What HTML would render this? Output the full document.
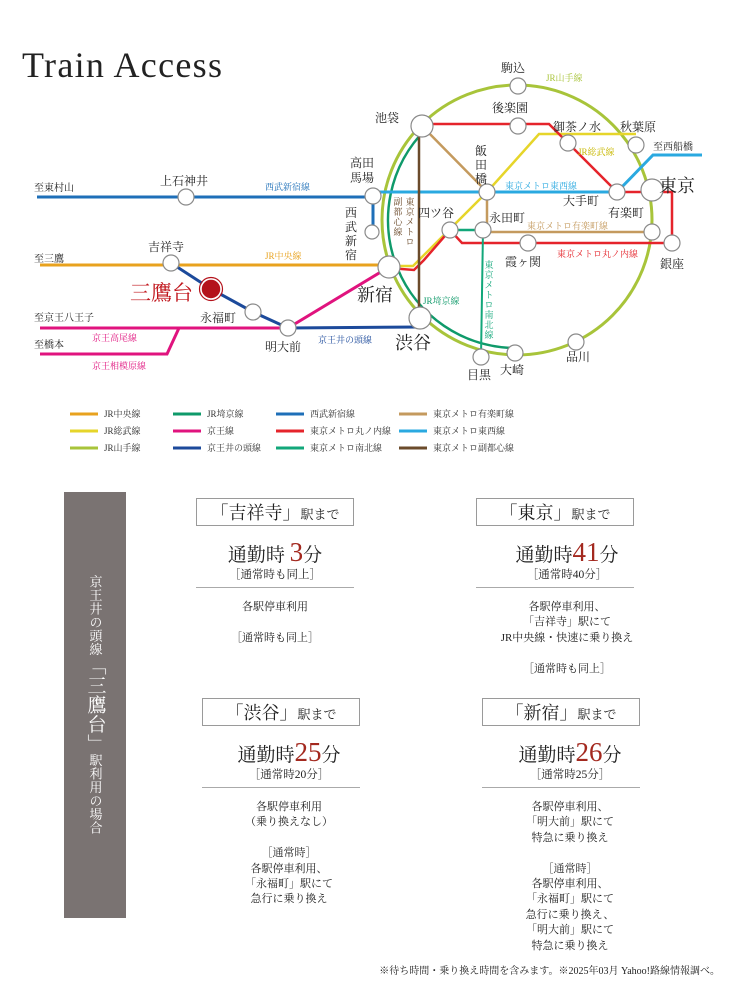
<!DOCTYPE html>
<html><head><meta charset="utf-8"><style>
body{margin:0;background:#fff;}
#w{position:relative;width:730px;height:1000px;overflow:hidden;font-family:"Liberation Serif","Noto Serif CJK SC",serif;color:#222;}
svg{position:absolute;left:0;top:0;}
.st{fill:#fff;stroke:#8a8a8a;stroke-width:1.2;}
.lb{font-size:12px;fill:#222;}
.ln{font-size:9px;}
.big{font-size:18px;fill:#222;}
.lg{font-size:9px;fill:#333;}
.gray{position:absolute;left:64px;top:492px;width:62px;height:426px;background:#7a7372;}
.vt{position:absolute;left:64px;top:492px;width:62px;height:426px;display:flex;align-items:center;justify-content:center;}
.vt div{writing-mode:vertical-rl;color:#fff;font-size:13px;letter-spacing:0.5px;line-height:1;}
.vt span{font-size:19px;}
.card{position:absolute;width:158px;text-align:center;}
.box{border:1.5px solid #9a9a9a;height:26px;line-height:28px;font-size:18px;white-space:nowrap;}
.box small{font-size:13px;}
.t1{margin-top:14px;font-size:19px;line-height:24px;white-space:nowrap;}
.t1 b{font-weight:normal;color:#a3291f;font-size:27px;}
.t2{font-size:11.5px;line-height:14px;}
.hr{border-top:1.5px solid #aaa;margin-top:5px;}
.t3{font-size:11px;line-height:15.4px;margin-top:12px;white-space:nowrap;}
</style></head><body><div id="w">
<svg width="730" height="470" viewBox="0 0 730 470">
<text x="22" y="77" font-family="Liberation Serif,serif" font-size="36" letter-spacing="1.3" fill="#222">Train Access</text>
<circle cx="517" cy="220" r="135" fill="none" stroke="#a8c43a" stroke-width="3"/>
<path d="M426 129 A128 128 0 0 0 515 348" fill="none" stroke="#0f9a6a" stroke-width="2.5"/>
<polyline points="37,197 373,197 373,232" fill="none" stroke="#1e6fb8" stroke-width="3"/>
<polyline points="373,192 617,192 653,155 702,155" fill="none" stroke="#2aa9e0" stroke-width="3"/>
<line x1="40" y1="265" x2="389" y2="265" stroke="#e8a21e" stroke-width="3"/>
<polyline points="389,266 413,266 487,192 539,134 636,134" fill="none" stroke="#e6d52a" stroke-width="2.5"/>
<polyline points="422,124 549,124 617,192 672,192 672,243 462,243 450,230 424,260 414,270 389,268" fill="none" stroke="#e5242b" stroke-width="2.5"/>
<polyline points="422,126 487,192 487,232 652,232" fill="none" stroke="#c49a5e" stroke-width="2.5"/>
<line x1="419" y1="128" x2="419" y2="318" stroke="#6b4b2b" stroke-width="2.5"/>
<line x1="450" y1="230" x2="483" y2="230" stroke="#12a77a" stroke-width="2.5"/>
<line x1="483" y1="230" x2="481" y2="357" stroke="#12a77a" stroke-width="2"/>
<polyline points="40,328 288,328 389,267" fill="none" stroke="#e0137e" stroke-width="3"/>
<polyline points="179,328 167,354 40,354" fill="none" stroke="#e0137e" stroke-width="3"/>
<polyline points="171,263 211,289 253,312 288,328 420,327" fill="none" stroke="#1c4a9b" stroke-width="3"/>
<g class="st">
<circle cx="518" cy="86" r="8"/><circle cx="422" cy="126" r="11"/><circle cx="518" cy="126" r="8"/>
<circle cx="568" cy="143" r="8"/><circle cx="636" cy="145" r="8"/><circle cx="373" cy="196" r="8"/>
<circle cx="186" cy="197" r="8"/><circle cx="487" cy="192" r="8"/><circle cx="617" cy="192" r="8"/>
<circle cx="652" cy="190" r="11"/><circle cx="372" cy="232" r="7"/><circle cx="450" cy="230" r="8"/>
<circle cx="483" cy="230" r="8"/><circle cx="652" cy="232" r="8"/><circle cx="528" cy="243" r="8"/>
<circle cx="672" cy="243" r="8"/><circle cx="171" cy="263" r="8"/><circle cx="389" cy="267" r="11"/>
<circle cx="253" cy="312" r="8"/><circle cx="288" cy="328" r="8"/><circle cx="420" cy="318" r="11"/>
<circle cx="481" cy="357" r="8"/><circle cx="515" cy="353" r="8"/><circle cx="576" cy="342" r="8"/>
</g>
<circle cx="211" cy="289" r="10" fill="#b4121b" stroke="#fff" stroke-width="1.5"/>
<circle cx="211" cy="289" r="11.5" fill="none" stroke="#b4121b" stroke-width="1.2"/>
<g class="lb">
<text x="501" y="72">駒込</text><text x="375" y="122">池袋</text><text x="492" y="112">後楽園</text>
<text x="553" y="131">御茶ノ水</text><text x="620" y="131">秋葉原</text>
<text x="350" y="167">高田</text><text x="350" y="182">馬場</text>
<text x="160" y="185">上石神井</text><text x="148" y="251">吉祥寺</text>
<text x="475" y="155">飯</text><text x="475" y="169">田</text><text x="475" y="183">橋</text>
<text x="345" y="217">西</text><text x="345" y="231">武</text><text x="345" y="245">新</text><text x="345" y="259">宿</text>
<text x="563" y="205">大手町</text><text x="418" y="217">四ツ谷</text><text x="489" y="222">永田町</text>
<text x="608" y="217">有楽町</text><text x="505" y="266">霞ヶ関</text><text x="660" y="268">銀座</text>
<text x="200" y="322">永福町</text><text x="265" y="351">明大前</text>
<text x="467" y="379">目黒</text><text x="500" y="374">大崎</text><text x="566" y="361">品川</text>
<text x="34" y="191" font-size="10">至東村山</text><text x="34" y="262" font-size="10">至三鷹</text>
<text x="34" y="321" font-size="10">至京王八王子</text><text x="34" y="348" font-size="10">至橋本</text>
<text x="653" y="150" font-size="10">至西船橋</text>
</g>
<text class="big" x="357" y="301">新宿</text><text class="big" x="395" y="349">渋谷</text><text class="big" x="659" y="192">東京</text>
<text x="130" y="300" font-size="21" fill="#c0141b">三鷹台</text>
<g class="ln">
<text x="265" y="190" fill="#1e6fb8">西武新宿線</text>
<text x="265" y="259" fill="#e8a21e">JR中央線</text>
<text x="92" y="341" fill="#e0137e">京王高尾線</text>
<text x="92" y="369" fill="#e0137e">京王相模原線</text>
<text x="318" y="343" fill="#1c4a9b">京王井の頭線</text>
<text x="423" y="304" fill="#0f9a6a">JR埼京線</text>
<text x="546" y="81" fill="#a8c43a">JR山手線</text>
<text x="578" y="155" fill="#c8b800">JR総武線</text>
<text x="505" y="189" fill="#2aa9e0">東京メトロ東西線</text>
<text x="527" y="229" fill="#c49a5e">東京メトロ有楽町線</text>
<text x="557" y="257" fill="#e5242b">東京メトロ丸ノ内線</text>
</g>
<g class="ln" fill="#6b4b2b" text-anchor="middle">
<text x="410" y="205">東</text><text x="410" y="215">京</text><text x="410" y="225">メ</text><text x="410" y="235">ト</text><text x="410" y="245">ロ</text>
<text x="398" y="205">副</text><text x="398" y="215">都</text><text x="398" y="225">心</text><text x="398" y="235">線</text>
</g>
<g class="ln" fill="#12a77a" text-anchor="middle">
<text x="489" y="268">東</text><text x="489" y="278">京</text><text x="489" y="288">メ</text><text x="489" y="298">ト</text><text x="489" y="308">ロ</text><text x="489" y="318">南</text><text x="489" y="328">北</text><text x="489" y="338">線</text>
</g>
<g stroke-width="3">
<line x1="70" y1="414" x2="98" y2="414" stroke="#e8a21e"/><line x1="70" y1="431" x2="98" y2="431" stroke="#e6d52a"/><line x1="70" y1="448" x2="98" y2="448" stroke="#a8c43a"/>
<line x1="173" y1="414" x2="201" y2="414" stroke="#0f9a6a"/><line x1="173" y1="431" x2="201" y2="431" stroke="#e0137e"/><line x1="173" y1="448" x2="201" y2="448" stroke="#1c4a9b"/>
<line x1="276" y1="414" x2="304" y2="414" stroke="#1e6fb8"/><line x1="276" y1="431" x2="304" y2="431" stroke="#e5242b"/><line x1="276" y1="448" x2="304" y2="448" stroke="#12a77a"/>
<line x1="399" y1="414" x2="427" y2="414" stroke="#c49a5e"/><line x1="399" y1="431" x2="427" y2="431" stroke="#2aa9e0"/><line x1="399" y1="448" x2="427" y2="448" stroke="#6b4b2b"/>
</g>
<g class="lg">
<text x="104" y="417">JR中央線</text><text x="104" y="434">JR総武線</text><text x="104" y="451">JR山手線</text>
<text x="207" y="417">JR埼京線</text><text x="207" y="434">京王線</text><text x="207" y="451">京王井の頭線</text>
<text x="310" y="417">西武新宿線</text><text x="310" y="434">東京メトロ丸ノ内線</text><text x="310" y="451">東京メトロ南北線</text>
<text x="433" y="417">東京メトロ有楽町線</text><text x="433" y="434">東京メトロ東西線</text><text x="433" y="451">東京メトロ副都心線</text>
</g>
</svg>
<div class="gray"></div>
<div class="vt"><div>京王井の頭線<span>「三鷹台」</span>駅利用の場合</div></div>

<div class="card" style="left:196px;top:498px;"><div class="box">「吉祥寺」<small>駅まで</small></div>
<div class="t1">通勤時 <b>3</b>分</div><div class="t2">［通常時も同上］</div><div class="hr"></div>
<div class="t3">各駅停車利用<br><br>［通常時も同上］</div></div>

<div class="card" style="left:476px;top:498px;"><div class="box">「東京」<small>駅まで</small></div>
<div style="padding-left:24px"><div class="t1">通勤時<b>41</b>分</div><div class="t2">［通常時40分］</div></div><div class="hr"></div>
<div class="t3" style="padding-left:24px">各駅停車利用、<br>「吉祥寺」駅にて<br>JR中央線・快速に乗り換え<br><br>［通常時も同上］</div></div>

<div class="card" style="left:202px;top:698px;"><div class="box">「渋谷」<small>駅まで</small></div>
<div style="padding-left:16px"><div class="t1">通勤時<b>25</b>分</div><div class="t2">［通常時20分］</div></div><div class="hr"></div>
<div class="t3" style="padding-left:16px">各駅停車利用<br>（乗り換えなし）<br><br>［通常時］<br>各駅停車利用、<br>「永福町」駅にて<br>急行に乗り換え</div></div>

<div class="card" style="left:482px;top:698px;"><div class="box">「新宿」<small>駅まで</small></div>
<div style="padding-left:18px"><div class="t1">通勤時<b>26</b>分</div><div class="t2">［通常時25分］</div></div><div class="hr"></div>
<div class="t3" style="padding-left:18px">各駅停車利用、<br>「明大前」駅にて<br>特急に乗り換え<br><br>［通常時］<br>各駅停車利用、<br>「永福町」駅にて<br>急行に乗り換え、<br>「明大前」駅にて<br>特急に乗り換え</div></div>

<div style="position:absolute;right:10px;top:962px;font-size:10px;white-space:nowrap;">※待ち時間・乗り換え時間を含みます。※2025年03月 Yahoo!路線情報調べ。</div>
</div></body></html>
